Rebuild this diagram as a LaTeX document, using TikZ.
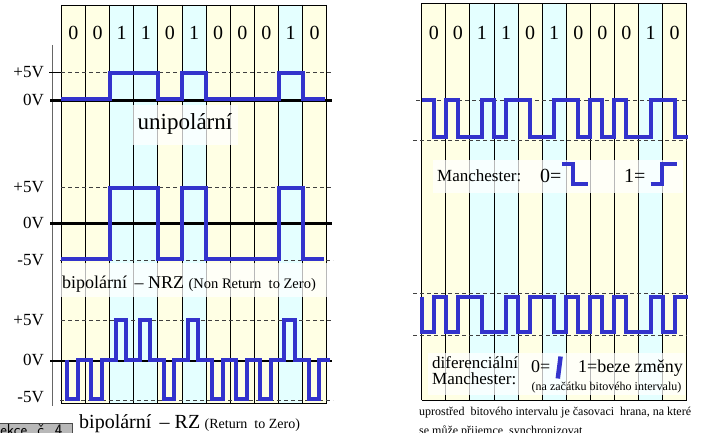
\documentclass[tikz,border=0pt]{standalone}
\usepackage{fontspec}
\setmainfont{Liberation Serif}
\usetikzlibrary{positioning}
\definecolor{bitzero}{RGB}{255,255,228}
\definecolor{bitone}{RGB}{228,255,255}
\definecolor{wavecol}{RGB}{51,51,204}
\newcommand{\fsz}[1]{\fontsize{#1}{#1}\selectfont}

\begin{document}
\begin{tikzpicture}[x=1pt, y=-1pt,
    colline/.style={line width=0.8pt},
    level/.style={dash pattern=on 4pt off 3pt, line width=0.8pt, black!75},
    zero/.style={line width=2.6pt},
    wave/.style={draw=wavecol, line width=4pt, line join=miter},
    veil/.style={fill=white, fill opacity=0.72},
    volt/.style={anchor=east, font=\fsz{17}, inner sep=0pt},
    digit/.style={anchor=base, font=\fsz{20}, inner sep=0pt},
    caption/.style={anchor=base west, inner sep=0pt}
]
\useasboundingbox (0,0) rectangle (701,433);

% bit columns, both panels
\foreach \b [count=\i from 0] in {0,0,1,1,0,1,0,0,0,1,0} {
  \ifnum\b=1 \def\bitfill{bitone}\else\def\bitfill{bitzero}\fi
  \fill[fill=\bitfill] ({61.3+24.13*\i},5) rectangle ({85.43+24.13*\i},403.3);
  \fill[fill=\bitfill] ({421.7+24.09*\i},3.3) rectangle ({445.79+24.09*\i},400);
  \node[digit] (ldig\i) at ({73.37+24.13*\i},39.3) {\b};
  \node[digit] (rdig\i) at ({433.75+24.09*\i},39.3) {\b};
}
\foreach \i in {0,...,11} {
  \draw[colline] ({61.3+24.13*\i},5) -- ({61.3+24.13*\i},403.3);
  \draw[colline] ({421.7+24.09*\i},3.3) -- ({421.7+24.09*\i},400);
}
\draw[colline] (61.3,5) -- (326.7,5);
\draw[colline] (61.3,403.3) -- (326.7,403.3);
\draw[colline] (421.7,3.3) -- (686.7,3.3);
\draw[colline] (421.7,400) -- (686.7,400);
\draw[line width=0.8pt, black!60] (52.3,45) -- (52.3,406);

% voltage levels
\draw[colline] (49,72.5) -- (61,72.5);
\draw[level] (61,72.5) -- (331,72.5);
\draw[level] (61,187.7) -- (333,187.7);
\draw[level] (60,260.5) -- (333,260.5);
\draw[level] (61,320.3) -- (333,320.3);
\draw[level] (60,400.7) -- (333,400.7);
\draw[level] (416,100.7) -- (687,100.7);
\draw[level] (413,140) -- (687,140);
\draw[level] (413,293.3) -- (687,293.3);
\draw[level] (413,335) -- (687,335);
\draw[zero] (50,100.3) -- (332,100.3);
\draw[zero] (50,223.3) -- (332,223.3);
\draw[zero] (50,361) -- (332,361);

\node[volt] (uhi) at (44,72) {+5V};
\node[volt] (uzero) at (44,99.5) {0V};
\node[volt] (nhi) at (44,187.5) {+5V};
\node[volt] (nzero) at (44,222.5) {0V};
\node[volt] (nlo) at (44,260) {-5V};
\node[volt] (rhi) at (44,320) {+5V};
\node[volt] (rzero) at (44,359.5) {0V};
\node[volt] (rlo) at (44,397) {-5V};

% label backgrounds
\fill[veil] (133,105) rectangle (238,145);
\fill[veil] (61.3,263) rectangle (326.7,297);
\fill[veil] (433,160) rectangle (683,193);
\fill[veil] (428,353) rectangle (685,395);

% unipolar
\draw[wave] (61.3,99) -| (109.6,73) -| (157.8,99) -| (182,73) -| (206.1,99)
  -| (278.5,73) -| (302.6,99) -- (325,99);
% bipolar NRZ
\draw[wave] (61.3,259) -| (109.6,187.7) -| (157.8,259) -| (182,187.7) -| (206.1,259)
  -| (278.5,187.7) -| (302.6,259) -- (324,259);
% bipolar RZ
\draw[wave] (67.3,359.5) \foreach \b [count=\i from 0] in {0,0,1,1,0,1,0,0,0,1,0} {
  -| ({67.3+24.13*\i},{359.5+39.5*(1-2*\b)}) -| ({77.8+24.13*\i},359.5) } -- (330,359.5);
% Manchester
\draw[wave] (421.7,100) \foreach \b [count=\i from 0] in {0,0,1,1,0,1,0,0,0,1,0} {
  -- ({421.7+24.09*\i},{100+37*\b}) -- ({433.75+24.09*\i},{100+37*\b})
  -- ({433.75+24.09*\i},{137-37*\b}) -- ({445.79+24.09*\i},{137-37*\b}) } -- (688,137);
% differential Manchester
\draw[wave] (421.7,296.5) \foreach \f [count=\i from 0] in {0,0,1,0,0,1,1,1,1,0,0} {
  -- ({421.7+24.09*\i},{331.5-35*\f}) -- ({433.75+24.09*\i},{331.5-35*\f})
  -- ({433.75+24.09*\i},{296.5+35*\f}) -- ({445.79+24.09*\i},{296.5+35*\f}) } -- (688,296.5);

% captions
\node[anchor=base, font=\fsz{23}, inner sep=0pt] (unip) at (185,130) {unipolární};
\node[caption, font=\fsz{18}] (nrz) at (62,288.3) {bipolární \,– NRZ};
\node[caption, font=\fsz{14.5}, right=4pt of nrz.base east, anchor=base west] (nrzfull) {(Non Return~ to Zero)};
\node[caption, font=\fsz{20}] (rz) at (79,428.3) {bipolární \,– RZ};
\node[caption, font=\fsz{14}, right=4pt of rz.base east, anchor=base west] (rzfull) {(Return~ to Zero)};

\node[caption, font=\fsz{17}] (man) at (437,181) {Manchester:};
\node[caption, font=\fsz{20}] (manzero) at (540,182) {0=};
\draw[wave] (562,164) -- (573,164) -- (573,184) -- (588,184);
\node[caption, font=\fsz{20}] (manone) at (624,182) {1=};
\draw[wave] (650.7,184) -- (662,184) -- (662,164) -- (676.7,164);

\node[caption, font=\fsz{17}] (difname) at (432,368.3) {diferenciální};
\node[caption, font=\fsz{17}] (difman) at (432,384) {Manchester:};
\node[caption, font=\fsz{18}] (difzero) at (531,372.5) {0=};
\draw[wave, line width=4.5pt] (557.8,378.5) -- (560.6,356.5);
\node[caption, font=\fsz{18}] (difone) at (578,372.5) {1=beze změny};
\node[caption, font=\fsz{12}] (difnote) at (531.5,390) {(na začátku bitového intervalu)};

\node[caption, font=\fsz{12}] (mid1) at (419,415.7) {uprostřed~ bitového intervalu je časovaci~ hrana, na které};
\node[caption, font=\fsz{12}] (mid2) at (419,434.5) {se může přijemce~ synchronizovat};

% lesson tab
\draw[black!70, fill=black!28] (-2,422.7) rectangle (71.7,450);
\node[caption, font=\sffamily\fsz{16}] (lesson) at (-3.5,435.5) {lekce~ č. 4};
\end{tikzpicture}
\end{document}
